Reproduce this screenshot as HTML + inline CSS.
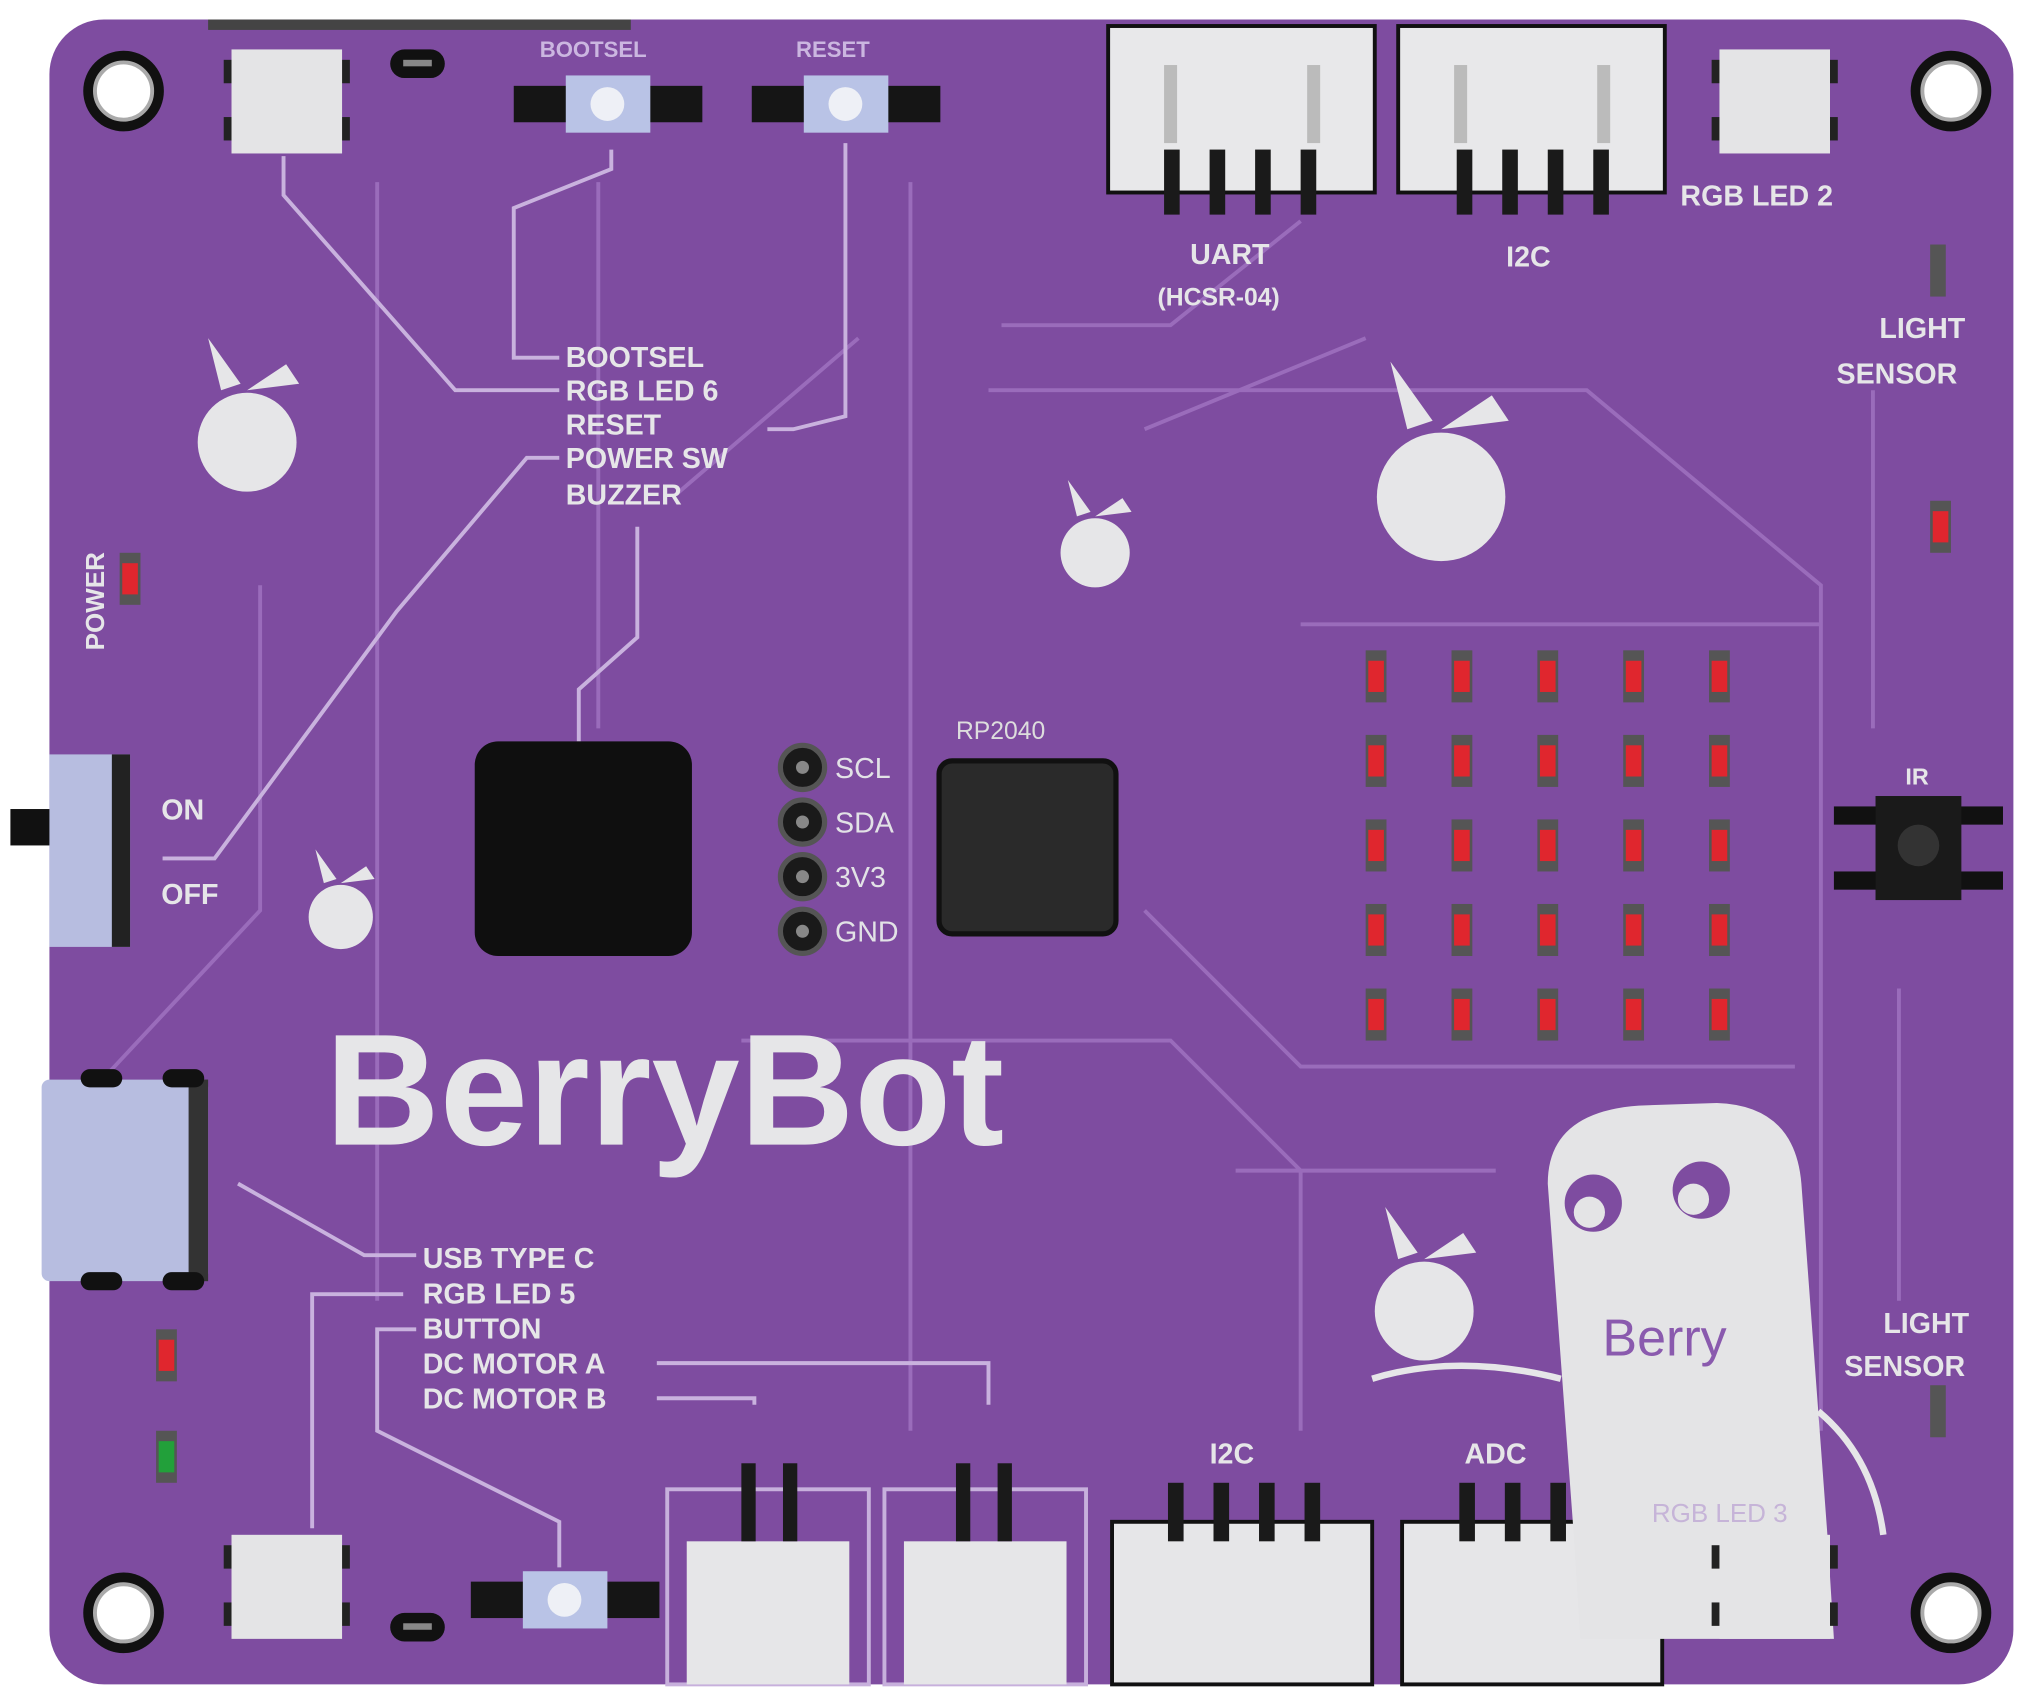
<!DOCTYPE html>
<html><head><meta charset="utf-8"><style>
html,body{margin:0;padding:0;background:#fff;width:2029px;height:1700px;overflow:hidden}
svg{display:block}
text{font-family:"Liberation Sans",sans-serif;font-weight:bold}
</style></head><body>
<svg width="2029" height="1700" viewBox="0 0 1560 1307" preserveAspectRatio="none" xmlns="http://www.w3.org/2000/svg">
<defs>
<g id="hole"><circle r="31" fill="#111"/><circle r="22" fill="#fff" stroke="#aaa" stroke-width="3"/></g>
<g id="rgb"><rect x="-6" y="8" width="10" height="18" fill="#222"/><rect x="-6" y="52" width="10" height="18" fill="#222"/><rect x="81" y="8" width="10" height="18" fill="#222"/><rect x="81" y="52" width="10" height="18" fill="#222"/><rect width="85" height="80" fill="#e4e4e6"/></g>
<g id="btn"><rect x="0" y="8" width="145" height="28" fill="#151515"/><rect x="40" y="0" width="65" height="44" fill="#b9c3e6"/><circle cx="72" cy="22" r="13" fill="#eef0f6"/></g>
<g id="led"><rect x="-8" y="-20" width="16" height="40" fill="#555"/><rect x="-6" y="-12" width="12" height="24" fill="#e0262e"/></g>
<g id="berry" fill="#e6e6e8"><circle r="38"/><path d="M-20,-40 L-30,-80 L-5,-45 Z M0,-40 L30,-60 L40,-45 Z" /></g>
</defs>
<rect x="38" y="15" width="1510" height="1280" rx="42" fill="#7e4ca0"/>
<rect x="160" y="15" width="325" height="8" fill="#444"/>
<g stroke="#9a6cbb" stroke-width="3" fill="none">
<path d="M290,140 V1000 M460,140 V560 M700,140 V1100 M770,250 L900,250 L1000,170 M760,300 H1220 L1400,450 V1100 M880,330 L1050,260 M950,900 L1150,900 M570,800 L900,800 L1000,900 V1100 M60,850 L200,700 V450 M1440,300 V560 M1460,760 V1000 M880,700 L1000,820 H1120 M1000,480 H1400 M1040,820 H1380 M520,380 L660,260"/>
</g>
<g stroke="#c9b2de" stroke-width="3" fill="none">
<path d="M218,120 V150 L350,300 H430 M470,115 V130 L395,160 V275 H430 M650,110 V320 L610,330 H590 M430,352 H405 L305,470 L165,660 H125 M490,405 V490 L445,530 V570 M183,910 L280,965 H320 M310,995 H240 V1175 M320,1022 H290 V1100 L430,1170 V1205 M505,1048 H760 V1080 M505,1075 H580 V1080"/>
</g>
<use href="#hole" x="95" y="70"/><use href="#hole" x="1500" y="70"/><use href="#hole" x="95" y="1240"/><use href="#hole" x="1500" y="1240"/>
<use href="#rgb" x="178" y="38"/><use href="#rgb" x="1322" y="38"/><use href="#rgb" x="178" y="1180"/>
<rect x="300" y="38" width="42" height="22" rx="11" fill="#111"/><rect x="310" y="46" width="22" height="5" fill="#888"/>
<rect x="300" y="1240" width="42" height="22" rx="11" fill="#111"/><rect x="310" y="1248" width="22" height="5" fill="#888"/>
<use href="#btn" x="395" y="58"/><use href="#btn" x="578" y="58"/><use href="#btn" x="362" y="1208"/>
<g fill="#cbb6e0" font-size="17"><text x="415" y="44">BOOTSEL</text><text x="612" y="44">RESET</text></g>
<g>
<rect x="852" y="20" width="205" height="128" fill="#e8e8ea" stroke="#111" stroke-width="3"/>
<rect x="1075" y="20" width="205" height="128" fill="#e8e8ea" stroke="#111" stroke-width="3"/>
<g fill="#1a1a1a"><rect x="895" y="115" width="12" height="50"/><rect x="930" y="115" width="12" height="50"/><rect x="965" y="115" width="12" height="50"/><rect x="1000" y="115" width="12" height="50"/>
<rect x="1120" y="115" width="12" height="50"/><rect x="1155" y="115" width="12" height="50"/><rect x="1190" y="115" width="12" height="50"/><rect x="1225" y="115" width="12" height="50"/></g>
<g fill="#bbb"><rect x="895" y="50" width="10" height="60"/><rect x="1005" y="50" width="10" height="60"/><rect x="1118" y="50" width="10" height="60"/><rect x="1228" y="50" width="10" height="60"/></g>
</g>
<g>
<rect x="513" y="1145" width="155" height="150" fill="none" stroke="#c7b0dc" stroke-width="3"/>
<rect x="680" y="1145" width="155" height="150" fill="none" stroke="#c7b0dc" stroke-width="3"/>
<rect x="528" y="1185" width="125" height="110" fill="#e6e6e8"/>
<rect x="695" y="1185" width="125" height="110" fill="#e6e6e8"/>
<rect x="855" y="1170" width="200" height="125" fill="#e6e6e8" stroke="#111" stroke-width="3"/>
<rect x="1078" y="1170" width="200" height="125" fill="#e6e6e8" stroke="#111" stroke-width="3"/>
<g fill="#1a1a1a"><rect x="570" y="1125" width="11" height="60"/><rect x="602" y="1125" width="11" height="60"/><rect x="735" y="1125" width="11" height="60"/><rect x="767" y="1125" width="11" height="60"/>
<rect x="898" y="1140" width="12" height="45"/><rect x="933" y="1140" width="12" height="45"/><rect x="968" y="1140" width="12" height="45"/><rect x="1003" y="1140" width="12" height="45"/>
<rect x="1122" y="1140" width="12" height="45"/><rect x="1157" y="1140" width="12" height="45"/><rect x="1192" y="1140" width="12" height="45"/><rect x="1227" y="1140" width="12" height="45"/></g>
</g>
<rect x="365" y="570" width="167" height="165" rx="18" fill="#0f0f0f"/>
<rect x="722" y="585" width="136" height="133" rx="10" fill="#2a2a2a" stroke="#111" stroke-width="4"/>
<g fill="#1a1a1a" stroke="#555" stroke-width="4"><circle cx="617" cy="590" r="17"/><circle cx="617" cy="632" r="17"/><circle cx="617" cy="674" r="17"/><circle cx="617" cy="716" r="17"/></g>
<g fill="#888"><circle cx="617" cy="590" r="5"/><circle cx="617" cy="632" r="5"/><circle cx="617" cy="674" r="5"/><circle cx="617" cy="716" r="5"/></g>
<g fill="#e2e2e6" font-size="22"><text x="642" y="598" style="font-weight:normal">SCL</text><text x="642" y="640" style="font-weight:normal">SDA</text><text x="642" y="682" style="font-weight:normal">3V3</text><text x="642" y="724" style="font-weight:normal">GND</text></g>
<text x="735" y="568" fill="#ddd" font-size="19" style="font-weight:normal">RP2040</text>
<g>
<use href="#led" x="1058" y="520"/><use href="#led" x="1124" y="520"/><use href="#led" x="1190" y="520"/><use href="#led" x="1256" y="520"/><use href="#led" x="1322" y="520"/>
<use href="#led" x="1058" y="585"/><use href="#led" x="1124" y="585"/><use href="#led" x="1190" y="585"/><use href="#led" x="1256" y="585"/><use href="#led" x="1322" y="585"/>
<use href="#led" x="1058" y="650"/><use href="#led" x="1124" y="650"/><use href="#led" x="1190" y="650"/><use href="#led" x="1256" y="650"/><use href="#led" x="1322" y="650"/>
<use href="#led" x="1058" y="715"/><use href="#led" x="1124" y="715"/><use href="#led" x="1190" y="715"/><use href="#led" x="1256" y="715"/><use href="#led" x="1322" y="715"/>
<use href="#led" x="1058" y="780"/><use href="#led" x="1124" y="780"/><use href="#led" x="1190" y="780"/><use href="#led" x="1256" y="780"/><use href="#led" x="1322" y="780"/>
<use href="#led" x="100" y="445"/><use href="#led" x="1492" y="405"/><use href="#led" x="128" y="1042"/>
</g>
<rect x="120" y="1100" width="16" height="40" fill="#555"/><rect x="122" y="1108" width="12" height="24" fill="#22a03a"/>
<rect x="1484" y="188" width="12" height="40" fill="#555"/><rect x="1484" y="1065" width="12" height="40" fill="#555"/>
<rect x="8" y="622" width="32" height="28" fill="#111"/>
<rect x="38" y="580" width="62" height="148" fill="#b7bde0"/><rect x="86" y="580" width="14" height="148" fill="#222"/>
<rect x="32" y="830" width="128" height="155" rx="6" fill="#b7bde0"/><rect x="145" y="830" width="15" height="155" fill="#333"/>
<rect x="62" y="822" width="32" height="14" rx="7" fill="#111"/><rect x="125" y="822" width="32" height="14" rx="7" fill="#111"/>
<rect x="62" y="978" width="32" height="14" rx="7" fill="#111"/><rect x="125" y="978" width="32" height="14" rx="7" fill="#111"/>
<rect x="1410" y="620" width="130" height="14" fill="#111"/><rect x="1410" y="670" width="130" height="14" fill="#111"/>
<rect x="1442" y="612" width="66" height="80" fill="#1a1a1a"/><circle cx="1475" cy="650" r="16" fill="#333"/>
<use href="#berry" x="190" y="340"/><use href="#berry" x="1108" y="382" transform="translate(1108,382) scale(1.3) translate(-1108,-382)"/>
<use href="#berry" x="842" y="425" transform="translate(842,425) scale(0.7) translate(-842,-425)"/>
<use href="#berry" x="262" y="705" transform="translate(262,705) scale(0.65) translate(-262,-705)"/>
<use href="#berry" x="1095" y="1008"/>
<path d="M1055,1060 Q1120,1040 1200,1060" stroke="#e6e6e8" stroke-width="5" fill="none"/>
<path d="M1190,910 Q1190,855 1260,850 L1320,848 Q1380,850 1385,910 L1405,1180 L1410,1260 L1215,1260 L1210,1180 Z" fill="#e4e4e6"/>
<use href="#rgb" x="1322" y="1180"/>
<path d="M1398,1085 Q1440,1120 1448,1180" stroke="#e6e6e8" stroke-width="5" fill="none"/>
<circle cx="1225" cy="925" r="22" fill="#7e4ca0"/><circle cx="1308" cy="915" r="22" fill="#7e4ca0"/>
<circle cx="1222" cy="932" r="12" fill="#e4e4e6"/><circle cx="1302" cy="922" r="12" fill="#e4e4e6"/>
<text x="1232" y="1042" fill="#8a5aae" font-size="40" style="font-weight:normal">Berry</text>
<text x="1270" y="1170" fill="#c6b4d8" font-size="20" style="font-weight:normal">RGB LED 3</text>
<text x="250" y="880" fill="#e6e6e8" font-size="122">BerryBot</text>
<g fill="#e6e6e8" font-size="22">
<text x="435" y="282">BOOTSEL</text><text x="435" y="308">RGB LED 6</text><text x="435" y="334">RESET</text><text x="435" y="360">POWER SW</text><text x="435" y="388">BUZZER</text>
<text x="325" y="975">USB TYPE C</text><text x="325" y="1002">RGB LED 5</text><text x="325" y="1029">BUTTON</text><text x="325" y="1056">DC MOTOR A</text><text x="325" y="1083">DC MOTOR B</text>
<text x="124" y="630">ON</text><text x="124" y="695">OFF</text>
<text x="915" y="203">UART</text><text x="890" y="235" font-size="19">(HCSR-04)</text><text x="1158" y="205">I2C</text>
<text x="1292" y="158">RGB LED 2</text>
<text x="1445" y="260">LIGHT</text><text x="1412" y="295">SENSOR</text>
<text x="1448" y="1025">LIGHT</text><text x="1418" y="1058">SENSOR</text>
<text x="930" y="1125">I2C</text><text x="1126" y="1125">ADC</text>
<text x="1465" y="603" font-size="18">IR</text>
<text transform="translate(80,500) rotate(-90)" font-size="20">POWER</text>
</g>
</svg>
</body></html>
